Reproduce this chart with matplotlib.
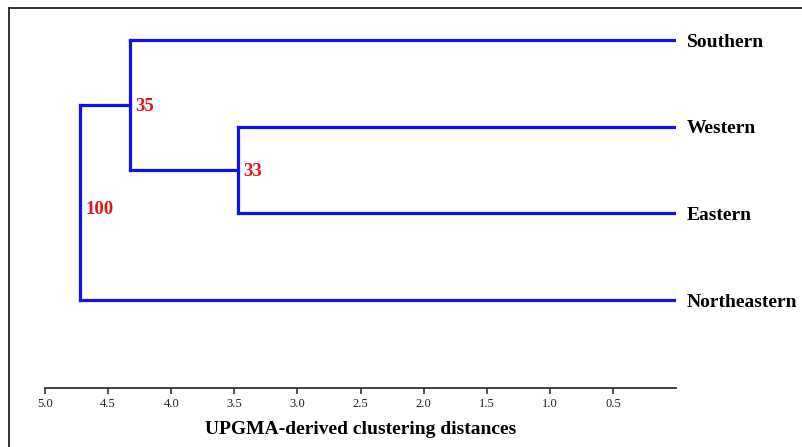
import matplotlib.pyplot as plt
from matplotlib.lines import Line2D

# leaves from top to bottom
leaves = ["Southern", "Western", "Eastern", "Northeastern"]
# UPGMA merges: (left child, right child, distance, bootstrap)
merges = [
    ("Western", "Eastern", 3.47, 33),
    ("Southern", "WE", 4.33, 35),
    ("SWE", "Northeastern", 4.72, 100),
]
merge_names = ["WE", "SWE", "root"]
ticks = [5.0, 4.5, 4.0, 3.5, 3.0, 2.5, 2.0, 1.5, 1.0, 0.5]

plt.rcParams["font.family"] = ["Liberation Serif", "DejaVu Serif"]

W, H = 802, 447
fig = plt.figure(figsize=(W / 100, H / 100), dpi=100)

# axes placed in pixel terms: x 5.0 -> 45 px, 0 -> 676 px; bottom spine at y=388 px
ax = fig.add_axes([45 / W, (H - 388) / H, (676 - 45) / W, (388 - 8) / H])

ypos = {name: len(leaves) - 1 - i for i, name in enumerate(leaves)}
xpos = {name: 0.0 for name in leaves}
blue = "#1010F0"

for name, (a, b, d, boot) in zip(merge_names, merges):
    ya, yb = ypos[a], ypos[b]
    ax.plot([xpos[a], d], [ya, ya], color=blue, lw=2.3, solid_capstyle="projecting")
    ax.plot([xpos[b], d], [yb, yb], color=blue, lw=2.3, solid_capstyle="projecting")
    ax.plot([d, d], [ya, yb], color=blue, lw=2.3, solid_capstyle="projecting")
    ypos[name] = (ya + yb) / 2
    xpos[name] = d
    # root label sits a little lower on its line in the original
    dy = -5 if name == "root" else -1
    ax.annotate(str(boot), (d, ypos[name]), xytext=(4, dy), textcoords="offset points",
                ha="left", va="center", color="#E8141B", fontsize=13.5, fontweight="bold")

for name in leaves:
    ax.annotate(name, (0, ypos[name]), xytext=(8, -1.5), textcoords="offset points",
                ha="left", va="center", fontsize=14, fontweight="bold", annotation_clip=False)

ax.set_xlim(5.0, 0.0)
ax.set_ylim(-1.015, 3.37)
ax.set_xticks(ticks)
ax.set_xticklabels([f"{t:.1f}" for t in ticks], fontsize=9, color="#222222")
ax.tick_params(axis="x", direction="out", length=4, width=1.2, color="#333333", pad=3)
ax.set_yticks([])
for side in ["top", "right", "left"]:
    ax.spines[side].set_visible(False)
ax.spines["bottom"].set_linewidth(1.3)
ax.spines["bottom"].set_color("#333333")
ax.set_xlabel("UPGMA-derived clustering distances", fontsize=14, fontweight="bold", labelpad=8)

# outer frame (left and top only)
fig.add_artist(Line2D([9 / W, 9 / W], [0, (H - 8) / H], color="#222222", lw=1.3))
fig.add_artist(Line2D([9 / W, 1], [(H - 8) / H, (H - 8) / H], color="#222222", lw=1.3))

fig.savefig("out.png", dpi=100)
